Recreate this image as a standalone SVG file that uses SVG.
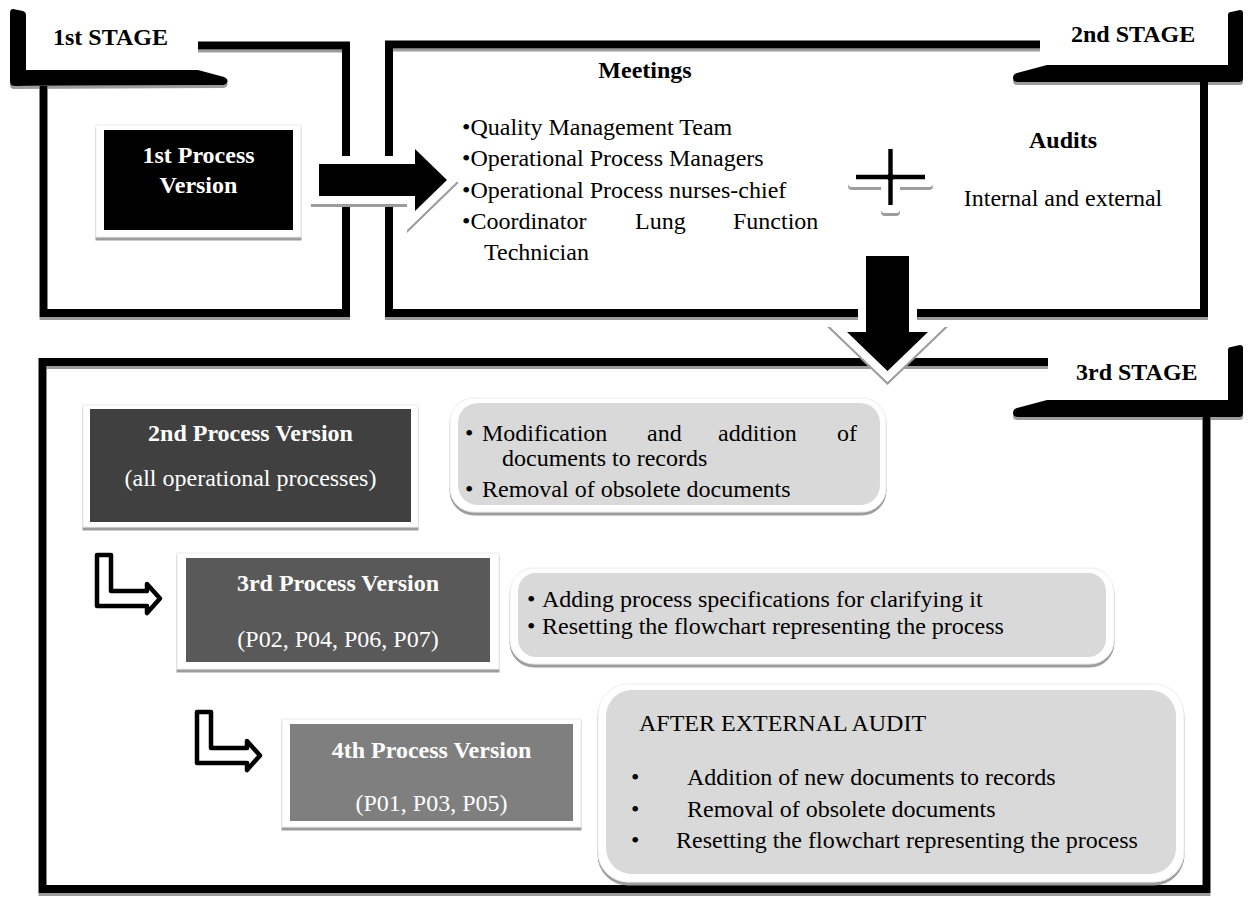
<svg xmlns="http://www.w3.org/2000/svg" width="1249" height="898" viewBox="0 0 1249 898">
<defs>
<filter id="sh" filterUnits="userSpaceOnUse" x="0" y="0" width="1249" height="898">
<feOffset in="SourceAlpha" dy="3" result="o"/>
<feFlood flood-color="#9c9c9c"/>
<feComposite in2="o" operator="in"/>
<feMerge><feMergeNode/><feMergeNode in="SourceGraphic"/></feMerge>
</filter>
<path id="larrow" d="M0,0 H14 V36 H50 V29 L63,43.5 L50,58 V51 H0 Z"/>
</defs>
<style>
text{font-family:"Liberation Serif","Times New Roman",serif;font-size:24px;fill:#000}
.b{font-weight:bold}
.w{fill:#fff}
.c{text-anchor:middle}
.frame{fill:none;stroke:#000;stroke-width:8;stroke-linejoin:miter}
.tab{fill:#000}
.rim{fill:#fff;stroke:#ececec;stroke-width:1}
.rbox{fill:#d9d9d9}
.la{fill:#fff;stroke:#000;stroke-width:4.5;stroke-linejoin:round}
.aw{fill:#fff;stroke:#fff;stroke-width:16;stroke-linejoin:miter;stroke-miterlimit:10}
</style>
<rect width="1249" height="898" fill="#fff"/>

<g id="stage1" filter="url(#sh)">
<path class="frame" d="M198,45.5 H346 V313 H43.5 V86"/>
<path class="tab" d="M13,9 L23,11 Q26,12 26,15 L26,70 L198,70 L224,77 Q229,79 227,83 Q226,85 222,85 L14,86 Q10,86 10,82 L10,13 Q10,9 13,9 Z"/>
</g>
<text class="b" x="53" y="45">1st STAGE</text>

<g id="stage2" filter="url(#sh)">
<path class="frame" d="M1040,44.5 H389 V313 H1204 V82"/>
<path class="tab" d="M1013,78 Q1013,74 1017,73 L1047,65 L1228,65 L1228,15 Q1228,12 1231,12 L1240,10 Q1243,10 1243,13 L1243,79 Q1243,82 1240,82 L1017,82 Q1013,82 1013,78 Z"/>
</g>
<text class="b" x="1071" y="42">2nd STAGE</text>

<g id="stage3" filter="url(#sh)">
<path class="frame" d="M1048,362 H42.5 V889 H1206.5 V417"/>
<path class="tab" transform="translate(0,335)" d="M1013,78 Q1013,74 1017,73 L1047,65 L1228,65 L1228,15 Q1228,12 1231,12 L1240,10 Q1243,10 1243,13 L1243,79 Q1243,82 1240,82 L1017,82 Q1013,82 1013,78 Z"/>
</g>
<text class="b" x="1076" y="380">3rd STAGE</text>

<g id="v1">
<rect class="rim" x="96" y="125" width="205" height="112" filter="url(#sh)"/>
<rect x="104" y="130" width="189" height="100" fill="#000"/>
<text class="b w c" x="198.5" y="163">1st Process</text>
<text class="b w c" x="198.5" y="193">Version</text>
</g>

<g id="meetings">
<text class="b c" x="645" y="78">Meetings</text>
<text x="462" y="135">•Quality Management Team</text>
<text x="462" y="166">•Operational Process Managers</text>
<text x="462" y="198">•Operational Process nurses-chief</text>
<text x="462" y="229">•Coordinator</text>
<text x="635" y="229">Lung</text>
<text x="733" y="229">Function</text>
<text x="484" y="260">Technician</text>
</g>

<g id="plus">
<g filter="url(#sh)">
<rect x="848" y="167" width="85" height="20" rx="4" fill="#fff"/>
<rect x="881" y="147" width="19" height="66" rx="4" fill="#fff"/>
</g>
<path d="M890.5,149 V205 M856,177 H925" stroke="#000" stroke-width="4.4" fill="none"/>
<circle cx="890.5" cy="177" r="3.5" fill="#000"/>
</g>

<g id="audits">
<text class="b c" x="1063" y="148">Audits</text>
<text class="c" x="1063" y="206">Internal and external</text>
</g>

<g id="v2">
<rect class="rim" x="83" y="405" width="335" height="122" filter="url(#sh)"/>
<rect x="90" y="409" width="321" height="113" fill="#404040"/>
<text class="b w c" x="250.5" y="441">2nd Process Version</text>
<text class="w c" x="250.5" y="486">(all operational processes)</text>
</g>

<g id="v3">
<rect class="rim" x="177" y="553" width="322" height="116" filter="url(#sh)"/>
<rect x="186" y="558" width="304" height="104" fill="#595959"/>
<text class="b w c" x="338" y="591">3rd Process Version</text>
<text class="w c" x="338" y="647">(P02, P04, P06, P07)</text>
</g>

<g id="v4">
<rect class="rim" x="282" y="719" width="299" height="108" filter="url(#sh)"/>
<rect x="290" y="724" width="283" height="97" fill="#7f7f7f"/>
<text class="b w c" x="431.5" y="758">4th Process Version</text>
<text class="w c" x="431.5" y="811">(P01, P03, P05)</text>
</g>

<g id="boxA">
<rect class="rim" x="450" y="398" width="436" height="114" rx="24" filter="url(#sh)"/>
<rect class="rbox" x="458" y="403" width="422" height="102" rx="20"/>
<text x="465" y="441">•</text>
<text x="482" y="441">Modification</text>
<text x="647" y="441">and</text>
<text x="718" y="441">addition</text>
<text x="837" y="441">of</text>
<text x="502" y="466">documents to records</text>
<text x="465" y="497">•</text>
<text x="482" y="497">Removal of obsolete documents</text>
</g>

<g id="boxB">
<rect class="rim" x="510" y="568" width="604" height="96" rx="24" filter="url(#sh)"/>
<rect class="rbox" x="518" y="573" width="588" height="84" rx="18"/>
<text x="527" y="607">•</text>
<text x="542" y="607">Adding process specifications for clarifying it</text>
<text x="527" y="634">•</text>
<text x="542" y="634">Resetting the flowchart representing the process</text>
</g>

<g id="boxC">
<rect class="rim" x="598" y="684" width="586" height="198" rx="30" filter="url(#sh)"/>
<rect class="rbox" x="606" y="690" width="570" height="184" rx="26"/>
<text x="639" y="731">AFTER EXTERNAL AUDIT</text>
<text x="631" y="785">•</text>
<text x="687" y="785">Addition of new documents to records</text>
<text x="631" y="817">•</text>
<text x="687" y="817">Removal of obsolete documents</text>
<text x="631" y="848">•</text>
<text x="676" y="848">Resetting the flowchart representing the process</text>
</g>

<g id="connectors">
<g filter="url(#sh)">
<path class="aw" d="M319,164 H415 V149 L447,180 L415,211 V196 H319 Z"/>
<path fill="#000" d="M319,164 H415 V149 L447,180 L415,211 V196 H319 Z"/>
</g>
<g filter="url(#sh)">
<path class="aw" d="M866,256 H909 V332 H928 L887.5,371 L847,332 H866 Z"/>
<path fill="#000" d="M866,256 H909 V332 H928 L887.5,371 L847,332 H866 Z"/>
</g>
<use href="#larrow" class="la" transform="translate(97,555)"/>
<use href="#larrow" class="la" transform="translate(197,712)"/>
</g>
</svg>
